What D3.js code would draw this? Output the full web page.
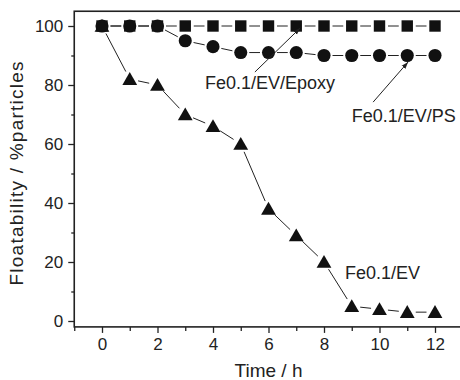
<!DOCTYPE html>
<html>
<head>
<meta charset="utf-8">
<script src="https://cdn.jsdelivr.net/npm/d3@7"></script>
<style>
	body { margin: 0; background: #fff; }
	text { font-family: "Liberation Sans", Arial, sans-serif; fill: #222; }
</style>
</head>
<body>
<div id="chart"></div>
<script>

///////////////////////////////////////////////////////////////////////////
/////////////////////////////// The data //////////////////////////////////
///////////////////////////////////////////////////////////////////////////

var hours = [0, 1, 2, 3, 4, 5, 6, 7, 8, 9, 10, 11, 12];
var epoxy = [100, 100, 100, 100, 100, 100, 100, 100, 100, 100, 100, 100, 100];
var ps    = [100, 100, 100, 95, 93, 91, 91, 91, 90, 90, 90, 90, 90];
var ev    = [100, 82, 80, 70, 66, 60, 38, 29, 20, 5, 4, 3, 3];

var xTicks = [0, 2, 4, 6, 8, 10, 12];
var xMinor = [-1, 1, 3, 5, 7, 9, 11, 13];
var yTicks = [0, 20, 40, 60, 80, 100];
var yMinor = [10, 30, 50, 70, 90];

//Series with their marker type
var series = [
	{name: "Fe0.1/EV/Epoxy", values: epoxy, symbol: d3.symbolSquare, size: 130},
	{name: "Fe0.1/EV/PS", values: ps, symbol: d3.symbolCircle, size: 135},
	{name: "Fe0.1/EV", values: ev, symbol: d3.symbolTriangle, size: 95}
];

//Labels, in data units (text anchor + optional arrow)
var labels = [
	{text: "Fe0.1/EV/Epoxy", x: 3.71, y: 78.6, arrow: [5.51, 84.4, 7.14, 99.3]},
	{text: "Fe0.1/EV/PS", x: 9.0, y: 67.6, arrow: [9.77, 74.2, 11.03, 87.8]},
	{text: "Fe0.1/EV", x: 8.76, y: 14.1, arrow: null}
];

///////////////////////////////////////////////////////////////////////////
//////////////////////////// Set up the SVG ///////////////////////////////
///////////////////////////////////////////////////////////////////////////

var width = 460,
	height = 380;

var svg = d3.select("#chart")
	.append("svg")
	.attr("width", width)
	.attr("height", height);

var x = d3.scaleLinear().domain([-1, 13]).range([74.25, 462.75]);
var y = d3.scaleLinear().domain([-2, 105]).range([326.9, 11.25]);

svg.append("defs").append("marker")
	.attr("id", "head")
	.attr("viewBox", "0 0 10 10")
	.attr("refX", 10).attr("refY", 5)
	.attr("markerWidth", 7).attr("markerHeight", 7)
	.attr("markerUnits", "userSpaceOnUse")
	.attr("orient", "auto")
	.append("path")
	.attr("d", "M0,1.5L10,5L0,8.5Z")
	.style("fill", "#222");

///////////////////////////////////////////////////////////////////////////
///////////////////////////////// Axes ////////////////////////////////////
///////////////////////////////////////////////////////////////////////////

svg.append("g")
	.attr("transform", "translate(" + x(-1) + ",0)")
	.call(d3.axisLeft(y).tickValues(yTicks).tickSize(6).tickPadding(5));
svg.append("g")
	.attr("transform", "translate(" + x(-1) + ",0)")
	.call(d3.axisLeft(y).tickValues(yMinor).tickSize(3).tickFormat(""));

svg.append("g")
	.attr("transform", "translate(0," + y(-2) + ")")
	.call(d3.axisBottom(x).tickValues(xTicks).tickSize(6).tickPadding(5));
svg.append("g")
	.attr("transform", "translate(0," + y(-2) + ")")
	.call(d3.axisBottom(x).tickValues(xMinor).tickSize(4).tickFormat(""));

svg.selectAll(".domain").remove();
svg.selectAll(".tick line").style("stroke", "#222").style("stroke-width", 1.3);
svg.selectAll(".tick text").style("font-size", "17px").style("fill", "#222");

//Frame (right edge falls outside the picture)
svg.append("rect")
	.attr("x", x(-1))
	.attr("y", y(105))
	.attr("width", x(13) - x(-1))
	.attr("height", y(-2) - y(105))
	.style("fill", "none")
	.style("stroke", "#222")
	.style("stroke-width", 1.6);

//Axis titles
svg.append("text")
	.attr("x", x(6))
	.attr("y", 376.5)
	.attr("text-anchor", "middle")
	.style("font-size", "19px")
	.text("Time / h");

svg.append("text")
	.attr("transform", "translate(23," + y(50) + ") rotate(-90)")
	.attr("text-anchor", "middle")
	.attr("textLength", 224)
	.attr("lengthAdjust", "spacing")
	.style("font-size", "19px")
	.text("Floatability / %particles");

///////////////////////////////////////////////////////////////////////////
//////////////////////// Lines with gaps at markers ///////////////////////
///////////////////////////////////////////////////////////////////////////

var gap = 8.5;

series.forEach(function(s) {
	var pts = hours.map(function(h, i) { return [x(h), y(s.values[i])]; });
	var segs = d3.pairs(pts).map(function(p) {
		var dx = p[1][0] - p[0][0], dy = p[1][1] - p[0][1];
		var len = Math.sqrt(dx*dx + dy*dy);
		if (len <= 2*gap) return null;
		var ux = dx/len, uy = dy/len;
		return [p[0][0] + ux*gap, p[0][1] + uy*gap, p[1][0] - ux*gap, p[1][1] - uy*gap];
	}).filter(function(d) { return d; });

	svg.append("g").selectAll("line")
		.data(segs)
		.enter().append("line")
		.attr("x1", function(d) { return d[0]; })
		.attr("y1", function(d) { return d[1]; })
		.attr("x2", function(d) { return d[2]; })
		.attr("y2", function(d) { return d[3]; })
		.style("stroke", "#222")
		.style("stroke-width", 1);
});

//Markers
series.forEach(function(s) {
	svg.append("g").selectAll("path")
		.data(hours)
		.enter().append("path")
		.attr("transform", function(h, i) {
			var dy = s.symbol === d3.symbolTriangle ? 1.5 : 0;
			return "translate(" + x(h) + "," + (y(s.values[i]) + dy) + ")";
		})
		.attr("d", d3.symbol().type(s.symbol).size(s.size))
		.style("fill", "#111");
});

///////////////////////////////////////////////////////////////////////////
/////////////////////////////// Labels ////////////////////////////////////
///////////////////////////////////////////////////////////////////////////

labels.forEach(function(l) {
	svg.append("text")
		.attr("x", x(l.x))
		.attr("y", y(l.y))
		.style("font-size", "18px")
		.text(l.text);
	if (l.arrow) {
		svg.append("line")
			.attr("x1", x(l.arrow[0]))
			.attr("y1", y(l.arrow[1]))
			.attr("x2", x(l.arrow[2]))
			.attr("y2", y(l.arrow[3]))
			.style("stroke", "#222")
			.style("stroke-width", 1)
			.attr("marker-end", "url(#head)");
	}
});

</script>
</body>
</html>
